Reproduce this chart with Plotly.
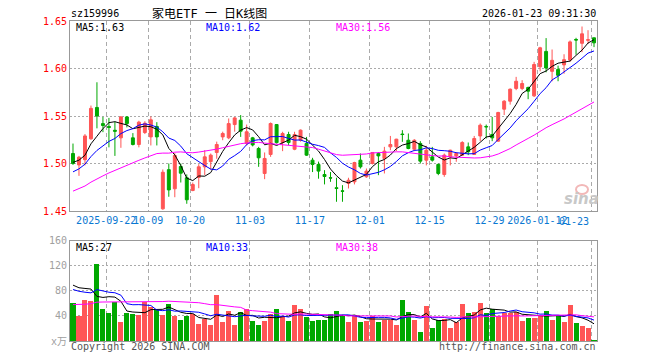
import plotly.graph_objects as go
from plotly.subplots import make_subplots
import pandas as pd

# ---------------- data ----------------
dates = [
    "2025-09-12", "2025-09-15", "2025-09-16", "2025-09-17", "2025-09-18", "2025-09-19",
    "2025-09-22", "2025-09-23", "2025-09-24", "2025-09-25", "2025-09-26", "2025-09-29", "2025-09-30",
    "2025-10-09", "2025-10-10", "2025-10-13", "2025-10-14", "2025-10-15", "2025-10-16", "2025-10-17",
    "2025-10-20", "2025-10-21", "2025-10-22", "2025-10-23", "2025-10-24", "2025-10-27", "2025-10-28",
    "2025-10-29", "2025-10-30", "2025-10-31",
    "2025-11-03", "2025-11-04", "2025-11-05", "2025-11-06", "2025-11-07", "2025-11-10", "2025-11-11",
    "2025-11-12", "2025-11-13", "2025-11-14", "2025-11-17", "2025-11-18", "2025-11-19", "2025-11-20",
    "2025-11-21", "2025-11-24", "2025-11-25", "2025-11-26", "2025-11-27", "2025-11-28",
    "2025-12-01", "2025-12-02", "2025-12-03", "2025-12-04", "2025-12-05", "2025-12-08", "2025-12-09",
    "2025-12-10", "2025-12-11", "2025-12-12", "2025-12-15", "2025-12-16", "2025-12-17", "2025-12-18",
    "2025-12-19", "2025-12-22", "2025-12-23", "2025-12-24", "2025-12-25", "2025-12-26", "2025-12-29",
    "2025-12-30", "2025-12-31",
    "2026-01-05", "2026-01-06", "2026-01-07", "2026-01-08", "2026-01-09", "2026-01-12", "2026-01-13",
    "2026-01-14", "2026-01-15", "2026-01-16", "2026-01-19", "2026-01-20", "2026-01-21", "2026-01-22",
    "2026-01-23",
]

open_ = [
    1.5105, 1.4985, 1.504, 1.526, 1.559, 1.542, 1.539, 1.535, 1.527, 1.549,
    1.527, 1.520, 1.5326, 1.528, 1.539, 1.4523, 1.4935, 1.4734, 1.4968, 1.485,
    1.4716, 1.4853, 1.4965, 1.502, 1.5116, 1.528, 1.527, 1.541, 1.5456, 1.521,
    1.527, 1.5158, 1.4895, 1.5095, 1.541, 1.5221, 1.5305, 1.515, 1.5245, 1.5211,
    1.5035, 1.499, 1.4884, 1.485, 1.4745, 1.4712, 1.479, 1.4807, 1.5035, 1.486,
    1.500, 1.5105, 1.5053, 1.5175, 1.5175, 1.531, 1.5245, 1.515, 1.5211, 1.5035,
    1.507, 1.499, 1.4884, 1.507, 1.508, 1.5088, 1.5175, 1.5095, 1.529, 1.539,
    1.5305, 1.5235, 1.5572, 1.5656, 1.579, 1.579, 1.580, 1.5712, 1.6018, 1.618,
    1.597, 1.599, 1.6038, 1.609, 1.6305, 1.6265, 1.6298, 1.6323,
]
high = [
    1.521, 1.508, 1.531, 1.561, 1.5855, 1.549, 1.548, 1.544, 1.550, 1.550,
    1.532, 1.545, 1.5445, 1.5495, 1.5435, 1.4937, 1.500, 1.511, 1.500, 1.4885,
    1.480, 1.4993, 1.514, 1.5105, 1.523, 1.5335, 1.5474, 1.549, 1.551, 1.541,
    1.528, 1.5175, 1.5116, 1.5432, 1.5415, 1.5334, 1.5334, 1.5334, 1.5358, 1.528,
    1.506, 1.502, 1.493, 1.491, 1.485, 1.4772, 1.485, 1.5018, 1.5105, 1.4947,
    1.512, 1.512, 1.5175, 1.529, 1.526, 1.5351, 1.5316, 1.5256, 1.5235, 1.5186,
    1.5175, 1.500, 1.5105, 1.5145, 1.512, 1.5235, 1.5221, 1.529, 1.5421, 1.541,
    1.549, 1.5544, 1.5667, 1.579, 1.5912, 1.5877, 1.581, 1.607, 1.6228, 1.632,
    1.620, 1.603, 1.615, 1.6295, 1.6323, 1.6442, 1.6403, 1.6325,
]
low = [
    1.4985, 1.487, 1.498, 1.525, 1.537, 1.533, 1.517, 1.508, 1.5165, 1.538,
    1.519, 1.517, 1.531, 1.519, 1.519, 1.4513, 1.465, 1.4645, 1.480, 1.4576,
    1.4708, 1.474, 1.4877, 1.4935, 1.505, 1.5245, 1.5256, 1.5335, 1.528, 1.519,
    1.518, 1.4965, 1.4835, 1.507, 1.521, 1.513, 1.5193, 1.514, 1.523, 1.508,
    1.491, 1.484, 1.478, 1.4807, 1.4597, 1.4597, 1.4737, 1.478, 1.4947, 1.485,
    1.499, 1.4877, 1.4895, 1.514, 1.513, 1.5228, 1.515, 1.513, 1.500, 1.498,
    1.502, 1.4877, 1.486, 1.498, 1.5018, 1.508, 1.5088, 1.509, 1.5235, 1.5263,
    1.5235, 1.523, 1.551, 1.562, 1.5772, 1.5772, 1.5677, 1.570, 1.597, 1.596,
    1.5866, 1.5866, 1.5945, 1.607, 1.6145, 1.6172, 1.626, 1.6225,
]
close = [
    1.500, 1.5066, 1.529, 1.558, 1.550, 1.540, 1.538, 1.534, 1.549, 1.542,
    1.520, 1.5435, 1.5424, 1.546, 1.528, 1.4908, 1.4722, 1.5084, 1.4898, 1.4618,
    1.4779, 1.4965, 1.507, 1.5088, 1.520, 1.5316, 1.542, 1.548, 1.534, 1.5334,
    1.5195, 1.506, 1.5053, 1.5421, 1.522, 1.5316, 1.5221, 1.5305, 1.5351, 1.5088,
    1.499, 1.492, 1.4863, 1.4847, 1.4737, 1.4708, 1.4824, 1.501, 1.4965, 1.492,
    1.5116, 1.508, 1.513, 1.520, 1.5256, 1.5305, 1.5158, 1.5245, 1.5025, 1.514,
    1.5035, 1.4895, 1.5088, 1.514, 1.5105, 1.5221, 1.5123, 1.5263, 1.5403, 1.5386,
    1.527, 1.5537, 1.5656, 1.5782, 1.5866, 1.5842, 1.5761, 1.6042, 1.6218, 1.6005,
    1.6086, 1.5928, 1.6093, 1.628, 1.630, 1.6365, 1.6302, 1.627,
]
# volume in 万 (10k) shares
volume = [
    60.8, 40.0, 66.7, 65.1, 122.7, 52.3, 45.9, 63.5, 31.5, 45.3,
    44.3, 42.1, 62.4, 55.5, 49.6, 42.7, 60.3, 41.0, 35.0, 40.0,
    43.0, 28.0, 36.0, 26.0, 74.0, 31.0, 48.0, 26.0, 47.0, 51.0,
    32.0, 27.0, 32.0, 43.0, 51.0, 40.0, 32.0, 58.0, 51.0, 39.0,
    32.0, 35.0, 35.0, 43.7, 49.1, 42.1, 31.5, 40.0, 30.4, 33.1,
    40.0, 31.5, 34.7, 34.7, 26.7, 66.7, 47.5, 34.7, 15.5, 56.0,
    21.9, 34.7, 35.7, 21.9, 31.5, 60.0, 45.9, 47.5, 62.0, 45.9,
    52.0, 41.1, 45.0, 46.0, 47.5, 33.1, 37.9, 37.9, 41.1, 48.0,
    35.0, 40.0, 31.5, 58.0, 29.6, 25.3, 21.1, 2.9,
]
# sessions just before the window (estimated from where the MA lines start)
prior_close = [
    1.433, 1.440, 1.436, 1.444, 1.448, 1.446, 1.453, 1.458, 1.455, 1.460,
    1.463, 1.468, 1.466, 1.470, 1.476, 1.473, 1.478, 1.482, 1.480, 1.486,
    1.475, 1.480, 1.478, 1.485, 1.488, 1.495, 1.503, 1.498, 1.510,
]
prior_volume = [
    42, 48, 39, 51, 44, 47, 52, 40, 45, 49,
    43, 50, 46, 41, 48, 44, 53, 47, 45, 46,
    68, 82, 75, 71, 79, 61, 72, 70, 181,
]

tick_dates = ["2025-09-22", "2025-10-09", "2025-10-20", "2025-11-03", "2025-11-17",
              "2025-12-01", "2025-12-15", "2025-12-29", "2026-01-12", "2026-01-23"]
tick_labels = ["2025-09-22", "10-09", "10-20", "11-03", "11-17",
               "12-01", "12-15", "12-29", "2026-01-12", "01-23"]

code = "sz159996"
title = "家电ETF 一 日K线图"
stamp = "2026-01-23 09:31:30"

# ---------------- styling ----------------
RED = "#ff5555"
GREEN = "#00a800"
MA_COLORS = {5: "#000000", 10: "#0000ff", 30: "#ff00ff"}
MONO = "DejaVu Sans Mono, Noto Sans CJK SC, monospace"
OFF = 8                      # page offset of the plot div (default body margin)
W, H = 660 - OFF, 360 - OFF
ML, MT = 70 - OFF, 21 - OFF  # plot area left / top on the page: 70, 21
MR, MB = 63, 19              # plot area right / bottom on the page: 597, 341
PW, PH = W - ML - MR, H - MT - MB

def xp(px):                  # page pixel -> paper x
    return (px - OFF - ML) / PW

def yp(py):                  # page pixel -> paper y
    return 1 - (py - OFF - MT) / PH

n = len(dates)
x = list(range(n))
npre = len(prior_close)
cser = pd.Series(prior_close + close)
vser = pd.Series(prior_volume + volume)
ma_p = {k: cser.rolling(k).mean().iloc[npre:].tolist() for k in (5, 10, 30)}
ma_v = {k: vser.rolling(k).mean().iloc[npre:].tolist() for k in (5, 10, 30)}
vol_colors = [RED if c >= o else GREEN for o, c in zip(open_, close)]
tickvals = [dates.index(d) - 0.45 for d in tick_dates]

price_dom = [yp(211), 1.0]
vol_dom = [0.0, yp(240.5)]

fig = make_subplots(rows=2, cols=1, shared_xaxes=False, vertical_spacing=0.0)

fig.add_trace(go.Candlestick(
    x=x, open=open_, high=high, low=low, close=close,
    increasing=dict(line=dict(color=RED, width=1), fillcolor=RED),
    decreasing=dict(line=dict(color=GREEN, width=1), fillcolor=GREEN),
    whiskerwidth=0, showlegend=False, hoverinfo="skip"), row=1, col=1)
for k in (5, 10, 30):
    fig.add_trace(go.Scatter(x=x, y=ma_p[k], mode="lines",
                             line=dict(color=MA_COLORS[k], width=1),
                             showlegend=False, hoverinfo="skip"), row=1, col=1)

fig.add_trace(go.Bar(x=x, y=volume, marker=dict(color=vol_colors, line=dict(width=0)),
                     width=0.84, showlegend=False, hoverinfo="skip"), row=2, col=1)
for k in (5, 10, 30):
    fig.add_trace(go.Scatter(x=x, y=ma_v[k], mode="lines",
                             line=dict(color=MA_COLORS[k], width=1),
                             showlegend=False, hoverinfo="skip"), row=2, col=1)

axis_common = dict(showline=True, linecolor="#999999", linewidth=1, mirror=True,
                   zeroline=False, fixedrange=True)
xcommon = dict(range=[-0.5, n - 0.5], tickmode="array", tickvals=tickvals,
               showgrid=True, gridcolor="#aaaaaa", gridwidth=1, griddash="4px,3px",
               tickangle=0, ticks="", **axis_common)

fig.update_layout(
    width=W, height=H, margin=dict(l=ML, r=MR, t=MT, b=MB, autoexpand=False),
    paper_bgcolor="white", plot_bgcolor="white",
    font=dict(family=MONO, size=10, color="#000000"),
    bargap=0,
    xaxis=dict(domain=[0, 1], ticktext=tick_labels[:-1] + [""],
               tickfont=dict(color="#0a78d2", size=10),
               rangeslider=dict(visible=False), **xcommon),
    xaxis2=dict(domain=[0, 1], anchor="y2", ticktext=[""] * len(tickvals),
                showticklabels=False, **xcommon),
    yaxis=dict(domain=price_dom, range=[1.45, 1.65],
               tickmode="array", tickvals=[1.45, 1.50, 1.55, 1.60, 1.65],
               ticktext=["1.45", "1.50", "1.55", "1.60", "1.65"],
               tickfont=dict(color="#ff0000", size=10),
               showgrid=True, gridcolor="#aaaaaa", griddash="2px,2px", ticks="",
               **axis_common),
    yaxis2=dict(domain=vol_dom, range=[0, 160], anchor="x2",
                tickmode="array", tickvals=[0, 40, 80, 120, 160],
                ticktext=["x万", "40", "80", "120", "160"],
                tickfont=dict(color="#a0a0a0", size=10),
                showgrid=True, gridcolor="#aaaaaa", griddash="2px,2px", ticks="",
                **axis_common),
)

ann = []
def add_text(text, px, py, color="#000000", anchor="left", size=10, family=MONO):
    ann.append(dict(text=text, x=xp(px), y=yp(py), xref="paper", yref="paper",
                    xanchor=anchor, yanchor="middle", showarrow=False,
                    font=dict(color=color, size=size, family=family)))

add_text(code, 69, 13)
add_text(title, 150, 14, size=12)
add_text(stamp, 598, 13, anchor="right")
add_text("MA5:%.2f" % ma_p[5][-1], 74, 27, MA_COLORS[5])
add_text("MA10:%.2f" % ma_p[10][-1], 204, 27, MA_COLORS[10])
add_text("MA30:%.2f" % ma_p[30][-1], 334, 27, MA_COLORS[30])
add_text("MA5:%d" % round(ma_v[5][-1]), 74, 247, MA_COLORS[5])
add_text("MA10:%d" % round(ma_v[10][-1]), 204, 247, MA_COLORS[10])
add_text("MA30:%d" % round(ma_v[30][-1]), 334, 247, MA_COLORS[30])
add_text("Copyright 2026 SINA.COM", 69, 346, "#555555")
add_text("http://finance.sina.com.cn", 598, 346, "#555555", anchor="right")
add_text(tick_labels[-1], 0, 221, "#0a78d2", anchor="right")
ann[-1]["x"] = tickvals[-1]
ann[-1]["xref"] = "x"
add_text("<b><i>sina</i></b>", 581, 199, "#c8c8c8", anchor="center", size=15,
         family="DejaVu Sans, sans-serif")
fig.update_layout(annotations=ann)

# watermark eye of the sina logo
fig.add_shape(type="circle", xref="paper", yref="paper",
              x0=xp(576), x1=xp(588), y0=yp(194), y1=yp(185),
              line=dict(color="#f2b8b8", width=2), fillcolor="rgba(0,0,0,0)", layer="below")

fig.write_html("out.html")
